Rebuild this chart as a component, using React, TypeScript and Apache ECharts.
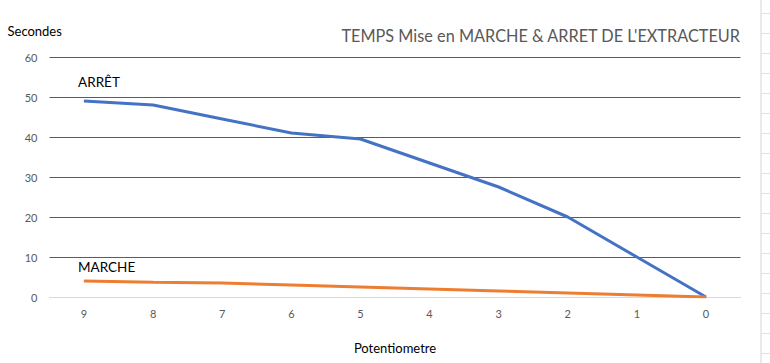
import React, { useEffect, useRef } from "react";
import * as echarts from "echarts";

const categories = ["9", "8", "7", "6", "5", "4", "3", "2", "1", "0"];
const arretValues = [49, 48, 44.5, 41, 39.5, 33.5, 27.5, 20, 10, 0];
const marcheValues = [4, 3.7, 3.5, 3, 2.5, 2, 1.5, 1, 0.5, 0];
const yTicks = { min: 0, max: 60, interval: 10 };

const FONT = "Lato, 'Open Sans', sans-serif";

function withFirstLabel(values: number[], text: string, dy: number) {
  return values.map((v, i) =>
    i === 0
      ? {
          value: v,
          label: {
            show: true,
            formatter: text,
            position: "top",
            align: "left",
            offset: [-6, dy],
            color: "#000000",
            fontSize: 13.5,
            fontFamily: FONT,
          },
        }
      : v
  );
}

export default function App() {
  const ref = useRef<HTMLDivElement>(null);
  useEffect(() => {
    if (!ref.current) return;
    const chart = echarts.init(ref.current, null, { renderer: "svg" });
    const cellLines: any[] = [{ type: "line", shape: { x1: 761, y1: 0, x2: 761, y2: 363 }, style: { stroke: "#d4d4d4", lineWidth: 1 } }];
    for (let y = 13; y < 363; y += 20) {
      cellLines.push({ type: "line", shape: { x1: 761, y1: y + 0.5, x2: 770, y2: y + 0.5 }, style: { stroke: "#e1e1e1", lineWidth: 1 } });
    }
    chart.setOption({
      animation: false,
      backgroundColor: "#ffffff",
      title: {
        text: "TEMPS Mise en MARCHE & ARRET DE L'EXTRACTEUR",
        right: 24,
        top: 22,
        textStyle: { color: "#595959", fontSize: 16.3, fontWeight: "normal", fontFamily: FONT },
      },
      grid: { left: 49.5, right: 29.5, top: 57, bottom: 66 },
      xAxis: {
        type: "category",
        data: categories,
        boundaryGap: true,
        name: "Potentiometre",
        nameLocation: "middle",
        nameGap: 44,
        nameTextStyle: { color: "#000000", fontSize: 13, fontFamily: FONT },
        axisLine: { show: true, lineStyle: { color: "#d9d9d9", width: 1 } },
        axisTick: { show: false },
        axisLabel: { color: "#595959", fontSize: 11, fontFamily: FONT, margin: 11 },
      },
      yAxis: {
        type: "value",
        min: yTicks.min,
        max: yTicks.max,
        interval: yTicks.interval,
        name: "Secondes",
        nameLocation: "end",
        nameGap: 20,
        nameTextStyle: { color: "#000000", fontSize: 13, fontFamily: FONT, align: "left", padding: [0, 0, 0, -42] },
        axisLine: { show: false },
        axisTick: { show: false },
        axisLabel: { color: "#595959", fontSize: 11, fontFamily: FONT, margin: 12 },
        splitLine: { show: true, lineStyle: { color: "#4a5d86", width: 1 } },
      },
      series: [
        {
          name: "ARRÊT",
          type: "line",
          data: withFirstLabel(arretValues, "ARRÊT", -7),
          symbol: "circle",
          symbolSize: 1,
          showSymbol: true,
          lineStyle: { color: "#4472c4", width: 3 },
          itemStyle: { color: "#4472c4" },
        },
        {
          name: "MARCHE",
          type: "line",
          data: withFirstLabel(marcheValues, "MARCHE", -2),
          symbol: "circle",
          symbolSize: 1,
          showSymbol: true,
          lineStyle: { color: "#ed7d31", width: 3 },
          itemStyle: { color: "#ed7d31" },
        },
      ],
      graphic: cellLines,
    });
    return () => chart.dispose();
  }, []);
  return <div ref={ref} style={{ position: "fixed", left: 0, top: 0, width: 770, height: 363 }} />;
}
